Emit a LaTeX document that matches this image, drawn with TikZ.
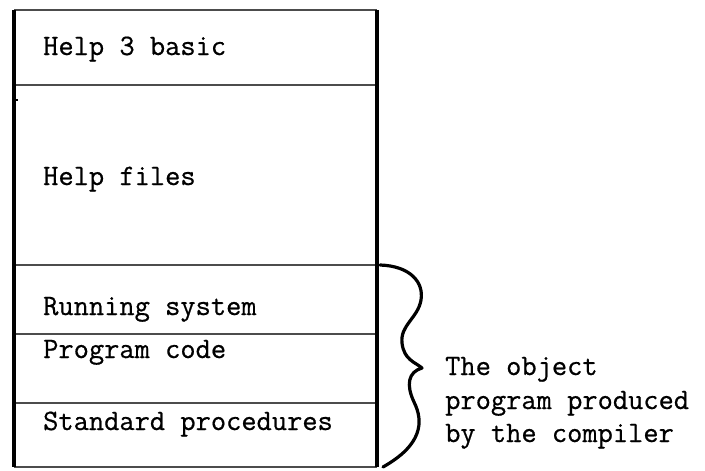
\documentclass[tikz,border=0pt]{standalone}
\usepackage{fontspec}
\newfontfamily\typewriter[FakeBold=0.6]{Latin Modern Mono}
\begin{document}
\begin{tikzpicture}[x=1pt,y=-1pt,
  divider/.style={draw=black!70,line width=2pt},
  wall/.style={draw=black,line width=3.2pt},
  layer/.style={font=\typewriter\fontsize{29.6}{34}\selectfont,anchor=base west,inner sep=0pt},
  bracepath/.style={draw=black,line width=3.2pt,line cap=round,line join=round}]
\useasboundingbox (0,0) rectangle (705,471);
% layer boundaries
\coordinate (tl) at (14,10);
\coordinate (tr) at (377,10);
\coordinate (bl) at (14,467);
\coordinate (br) at (377,467);
\path[divider] (tl) -- (tr);
\path[divider] (14,85) -- (377,85);
\path[divider] (14,265) coordinate (hl) -- (377,265) coordinate (hr);
\path[divider] (14,334) -- (377,334);
\path[divider] (14,403) -- (377,403);
\path[divider] (bl) -- (br);
\path[wall] (tl) -- (bl);
\path[wall] (tr) -- (br);
\draw[line width=1.2pt] (14,100) -- (18,100);
% layer names
\node[layer] (basic) at (43,55) {Help 3 basic};
\node[layer] (files) at (43,185) {Help files};
\node[layer] (run) at (43,315) {Running system};
\node[layer] (code) at (43,358) {Program code};
\node[layer] (std) at (43,430) {Standard procedures};
% brace over the object program
\coordinate (b0) at (380,265);
\coordinate (tip) at (422,368);
\coordinate (b1) at (383,467);
\path[bracepath] (b0) .. controls (410,266) and (424,282) .. (421,300)
  .. controls (418,318) and (400,325) .. (402,343)
  .. controls (404,360) and (415,362) .. (tip)
  .. controls (408,372) and (406,385) .. (414,402)
  .. controls (424,422) and (422,445) .. (b1);
% caption
\node[layer] (cap1) at (445,375) {The object};
\node[layer] (cap2) at (445,409) {program produced};
\node[layer] (cap3) at (445,442) {by the compiler};
\end{tikzpicture}
\end{document}
